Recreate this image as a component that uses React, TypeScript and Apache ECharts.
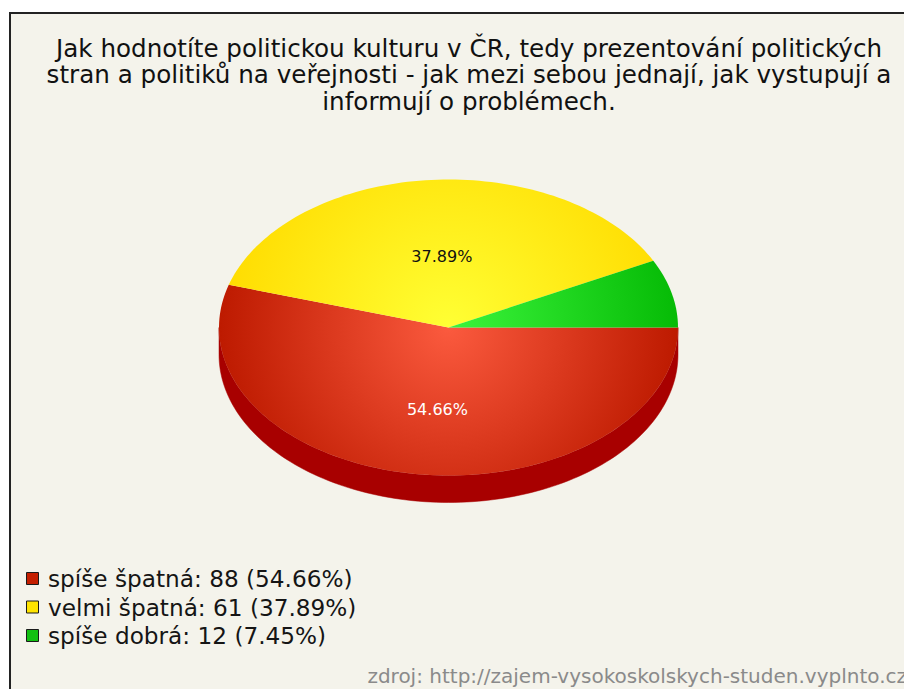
import React, { useEffect, useRef } from "react";
import * as echarts from "echarts";

// ---- data ----
const categories = ["spíše špatná", "velmi špatná", "spíše dobrá"];
const counts = [88, 61, 12];
const titleLines = [
  "Jak hodnotíte politickou kulturu v ČR, tedy prezentování politických",
  "stran a politiků na veřejnosti - jak mezi sebou jednají, jak vystupují a",
  "informují o problémech.",
];
const sourceText = "zdroj: http://zajem-vysokoskolskych-studen.vyplnto.cz";

// ---- styles ----
const topColors = [
  ["#fb5a3e", "#bd1a00"],
  ["#ffff34", "#ffdc00"],
  ["#3cf53c", "#06bb06"],
];
const sideColors = ["#a80000", "#c9ac00", "#058f05"];
const legendColors = ["#c41e00", "#ffe400", "#12c012"];
const labelColors = ["#ffffff", "#111111", "#111111"];
const FONT = '"DejaVu Sans", Verdana, sans-serif';

// pie geometry (layout only)
const CX = 440.5;
const CY = 319.5;
const RX = 229.5;
const RY = 148;
const DEPTH = 27;

const total = counts.reduce((a, b) => a + b, 0);
const percents = counts.map((v) => ((v / total) * 100).toFixed(2));

function pt(t: number, dy = 0): number[] {
  return [CX + RX * Math.cos(t), CY - RY * Math.sin(t) + dy];
}

function arc(a: number, b: number, dy = 0): number[][] {
  const n = Math.max(2, Math.ceil(((b - a) / (Math.PI * 2)) * 240));
  const out: number[][] = [];
  for (let k = 0; k <= n; k++) out.push(pt(a + ((b - a) * k) / n, dy));
  return out;
}

const renderItem = (params: any, api: any) => {
  const i = params.dataIndex;
  const v = api.value(0);
  let before = 0;
  for (let k = 0; k < i; k++) before += counts[k];
  const a2 = Math.PI * 2 - (before / total) * Math.PI * 2;
  const a1 = a2 - (v / total) * Math.PI * 2;
  const children: any[] = [];

  const lo = Math.max(a1, Math.PI);
  const hi = Math.min(a2, Math.PI * 2);
  if (hi > lo) {
    const pts = arc(lo, hi, 0).concat(arc(lo, hi, DEPTH).reverse());
    children.push({
      type: "polygon",
      shape: { points: pts },
      style: { fill: sideColors[i], stroke: sideColors[i], lineWidth: 0.5 },
    });
  }
  children.push({
    type: "polygon",
    shape: { points: [[CX, CY]].concat(arc(a1, a2, 0)) },
    style: {
      fill: new echarts.graphic.RadialGradient(
        CX,
        CY,
        RX,
        [
          { offset: 0, color: topColors[i][0] },
          { offset: 1, color: topColors[i][1] },
        ],
        true
      ),
    },
  });
  if (v / total >= 0.1) {
    const mid = (a1 + a2) / 2;
    children.push({
      type: "text",
      style: {
        text: percents[i] + "%",
        x: CX + RX * 0.33 * Math.cos(mid),
        y: CY - RY * 0.52 * Math.sin(mid) + 6,
        fill: labelColors[i],
        font: `16px ${FONT}`,
        align: "center",
        verticalAlign: "middle",
      },
    });
  }
  return { type: "group", children };
};

export default function App() {
  const ref = useRef<HTMLDivElement>(null);
  useEffect(() => {
    if (!ref.current) return;
    const chart = echarts.init(ref.current, null, { renderer: "svg" });
    const legendItems: any[] = [];
    categories.forEach((name, i) => {
      const cy = 570.5 + i * 28.5;
      legendItems.push({
        type: "rect",
        shape: { x: 18.5, y: cy - 6, width: 12, height: 12 },
        style: { fill: legendColors[i], stroke: "#1a1a1a", lineWidth: 1 },
      });
      legendItems.push({
        type: "text",
        style: {
          text: `${name}: ${counts[i]} (${percents[i]}%)`,
          x: 40,
          y: cy,
          fill: "#151515",
          font: `23.2px ${FONT}`,
          align: "left",
          verticalAlign: "middle",
        },
      });
    });
    chart.setOption({
      animation: false,
      backgroundColor: "#ffffff",
      title: {
        text: titleLines.join("\n"),
        left: 461,
        top: 27,
        padding: 0,
        textAlign: "center",
        textStyle: {
          fontFamily: FONT,
          fontSize: 24.6,
          fontWeight: "normal",
          color: "#111111",
          lineHeight: 26.5,
        },
      },
      graphic: [
        {
          type: "rect",
          z: -10,
          silent: true,
          shape: { x: 2, y: 5, width: 1200, height: 1200 },
          style: { fill: "#f4f3eb", stroke: "#222222", lineWidth: 2 },
        },
        ...legendItems,
        {
          type: "text",
          style: {
            text: sourceText,
            x: 899,
            y: 668,
            fill: "#8a8a8a",
            font: `20px ${FONT}`,
            align: "right",
            verticalAlign: "middle",
          },
        },
      ],
      series: [
        {
          type: "custom",
          coordinateSystem: "none",
          renderItem,
          data: counts.map((v, i) => ({ value: v, name: categories[i] })),
          silent: true,
        },
      ],
    });
    return () => chart.dispose();
  }, []);
  return <div ref={ref} style={{ width: 904, height: 681 }} />;
}
